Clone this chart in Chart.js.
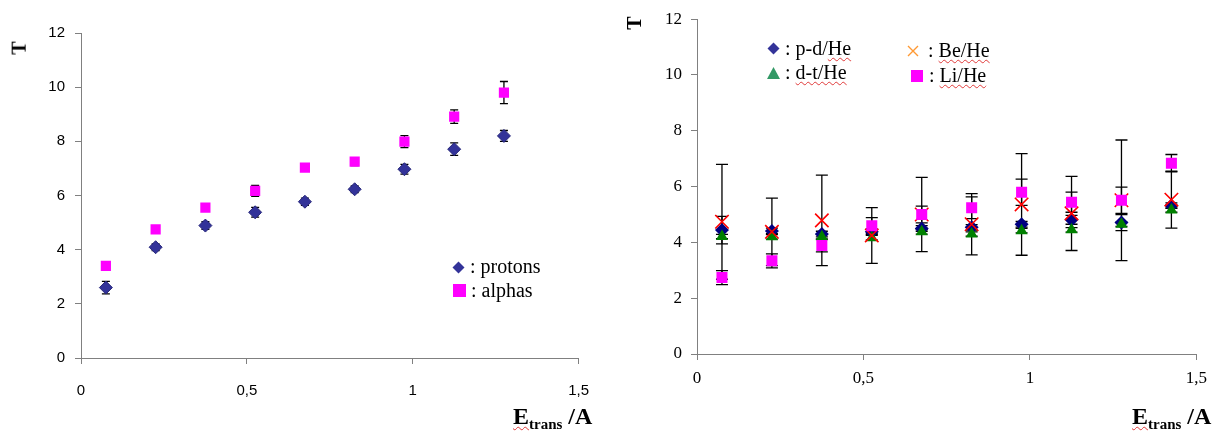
<!DOCTYPE html>
<html>
<head>
<meta charset="utf-8">
<script src="https://cdn.jsdelivr.net/npm/chart.js@4.4.0/dist/chart.umd.min.js"></script>
<style>
  body { margin: 0; background: #fff; width: 1215px; height: 438px; overflow: hidden; position: relative; }
  canvas { position: absolute; top: 0; }
  #leftChart { left: 0; }
  #rightChart { left: 607px; }
  .ytitle { position: absolute; font-family: "Liberation Serif", serif; font-weight: bold; font-size: 20px; transform: rotate(-90deg); line-height: 20px; }
  .xtitle { position: absolute; font-family: "Liberation Serif", serif; font-weight: bold; font-size: 24px; white-space: nowrap; line-height: 24px; }
  .xtitle sub { font-size: 15px; vertical-align: -5px; }
  .leg { position: absolute; font-family: "Liberation Serif", serif; font-size: 20px; white-space: nowrap; line-height: 20px; color: #000; }
  .mk { position: absolute; }
  .wavy { text-decoration: underline wavy #e03a3a; text-decoration-thickness: 1px; text-underline-offset: 2px; }
</style>
</head>
<body>
<canvas id="leftChart" width="607" height="438"></canvas>
<canvas id="rightChart" width="608" height="438"></canvas>

<!-- titres des axes -->
<div class="ytitle" style="left:12px; top:38px;">T</div>
<div class="ytitle" style="left:627px; top:13px;">T</div>
<div class="xtitle" style="left:513px; top:404px;"><span class="wavy">E<sub>trans</sub></span> /A</div>
<div class="xtitle" style="left:1132px; top:404px;"><span class="wavy">E<sub>trans</sub></span> /A</div>

<!-- légende gauche -->
<svg class="mk" style="left:452px; top:261px;" width="13" height="13"><polygon points="6.5,0.5 12.5,6.5 6.5,12.5 0.5,6.5" fill="#333399"/></svg>
<div class="leg" style="left:470px; top:256px;">: protons</div>
<svg class="mk" style="left:453px; top:284px;" width="13" height="13"><rect x="0" y="0" width="13" height="13" fill="#ff00ff"/></svg>
<div class="leg" style="left:471px; top:280px;">: alphas</div>

<!-- légende droite -->
<svg class="mk" style="left:767px; top:42px;" width="13" height="13"><polygon points="6.5,0.5 12.5,6.5 6.5,12.5 0.5,6.5" fill="#333399"/></svg>
<div class="leg" style="left:785px; top:38px;">: p-d/<span class="wavy">He</span></div>
<svg class="mk" style="left:767px; top:67px;" width="13" height="12"><polygon points="6.5,0 13,12 0,12" fill="#339966"/></svg>
<div class="leg" style="left:785px; top:62px;">: <span class="wavy">d-t/He</span></div>
<svg class="mk" style="left:907px; top:45px;" width="12" height="12"><path d="M1,1 L11,11 M11,1 L1,11" stroke="#ff9933" stroke-width="1.4"/></svg>
<div class="leg" style="left:928px; top:40px;">: <span class="wavy">Be/He</span></div>
<svg class="mk" style="left:911px; top:70px;" width="12" height="12"><rect x="0" y="0" width="12" height="12" fill="#ff00ff"/></svg>
<div class="leg" style="left:929px; top:65px;">: <span class="wavy">Li/He</span></div>

<script>
// Données du graphique de gauche
const leftX = [0.075, 0.225, 0.375, 0.525, 0.675, 0.825, 0.975, 1.125, 1.275];
const protons = [2.6, 4.09, 4.89, 5.38, 5.77, 6.23, 6.97, 7.71, 8.2];
const protonsErr = [0.23, 0.12, 0.14, 0.18, 0.13, 0.12, 0.18, 0.23, 0.2];
const alphas = [3.40, 4.75, 5.55, 6.17, 7.03, 7.25, 7.99, 8.91, 9.8];
const alphasErr = [0.05, 0.05, 0.05, 0.2, 0.05, 0.15, 0.22, 0.25, 0.41];

// Données du graphique de droite
const rightX = [0.075, 0.225, 0.375, 0.525, 0.675, 0.825, 0.975, 1.125, 1.275, 1.425];
const pdHe = [4.44, 4.41, 4.30, 4.38, 4.50, 4.54, 4.65, 4.81, 4.71, 5.32];
const pdHeErr = [0.49, 0.1, 0.1, 0.1, 0.1, 0.1, 0.1, 0.16, 0.29, 0.1];
const dtHe = [4.21, 4.20, 4.20, 4.17, 4.38, 4.30, 4.42, 4.45, 4.65, 5.16];
const dtHeErr = [0.08, 0.08, 0.08, 0.08, 0.08, 0.08, 0.08, 0.08, 0.08, 0.08];
const beHe = [4.74, 4.38, 4.79, 4.25, 5.00, 4.65, 5.36, 5.04, 5.51, 5.53];
const beHeErr = [2.06, 1.21, 1.62, 1.0, 1.33, 1.1, 1.82, 1.33, 2.16, 1.02];
const liHe = [2.74, 3.34, 3.89, 4.60, 5.00, 5.24, 5.80, 5.44, 5.51, 6.84];
const liHeErr = [0.25, 0.25, 0.23, 0.29, 0.3, 0.39, 0.47, 0.36, 0.47, 0.31];

// Graduations
const xTicks = [0, 0.5, 1, 1.5];
const yTicks = [0, 2, 4, 6, 8, 10, 12];

function toPoints(xs, ys) {
  return xs.map((x, i) => ({ x: x, y: ys[i] }));
}

// Barres d'erreur dessinées avant les marqueurs
const errorBars = {
  id: 'errorBars',
  beforeDatasetsDraw(chart, args, opts) {
    const ctx = chart.ctx;
    const xs = chart.scales.x, ys = chart.scales.y;
    const cap = opts.cap || 4;
    ctx.save();
    ctx.strokeStyle = '#000';
    ctx.lineWidth = 1.3;
    chart.data.datasets.forEach(ds => {
      if (!ds.errors) return;
      ds.data.forEach((p, i) => {
        const e = ds.errors[i];
        const x = xs.getPixelForValue(p.x);
        const y1 = ys.getPixelForValue(p.y + e);
        const y2 = ys.getPixelForValue(p.y - e);
        ctx.beginPath();
        ctx.moveTo(x, y1); ctx.lineTo(x, y2);
        ctx.moveTo(x - cap, y1); ctx.lineTo(x + cap, y1);
        ctx.moveTo(x - cap, y2); ctx.lineTo(x + cap, y2);
        ctx.stroke();
      });
    });
    ctx.restore();
  }
};

function makeScales(fontFamily, fontSize, yWidth, xHeight, xPad, yPad) {
  const grid = { display: true, drawOnChartArea: false, drawTicks: true, tickLength: 6, color: '#808080' };
  const border = { display: true, color: '#808080', width: 1 };
  return {
    x: {
      type: 'linear', min: 0, max: 1.5,
      afterBuildTicks: s => { s.ticks = xTicks.map(v => ({ value: v })); },
      afterFit: s => { s.height = xHeight; },
      grid: grid, border: border,
      ticks: {
        color: '#000', padding: xPad, maxRotation: 0,
        font: { family: fontFamily, size: fontSize },
        callback: v => String(v).replace('.', ',')
      }
    },
    y: {
      type: 'linear', min: 0, max: 12,
      afterBuildTicks: s => { s.ticks = yTicks.map(v => ({ value: v })); },
      afterFit: s => { s.width = yWidth; },
      grid: grid, border: border,
      ticks: {
        color: '#000', padding: yPad,
        font: { family: fontFamily, size: fontSize },
        callback: v => String(v)
      }
    }
  };
}

new Chart(document.getElementById('leftChart'), {
  type: 'scatter',
  data: {
    datasets: [
      {
        label: 'protons', data: toPoints(leftX, protons), errors: protonsErr,
        pointStyle: 'rectRot', pointRadius: 6.5,
        backgroundColor: '#333399', borderColor: '#26267a', borderWidth: 1
      },
      {
        label: 'alphas', data: toPoints(leftX, alphas), errors: alphasErr,
        pointStyle: 'rect', pointRadius: 7.2,
        backgroundColor: '#ff00ff', borderColor: '#ff00ff', borderWidth: 0
      }
    ]
  },
  options: {
    responsive: false, animation: false,
    layout: { padding: { left: 0, top: 33, right: 23, bottom: 0 } },
    plugins: { legend: { display: false }, tooltip: { enabled: false }, errorBars: { cap: 4 } },
    scales: makeScales('"Liberation Sans", Arial, sans-serif', 15, 81, 80, 18, 10)
  },
  plugins: [errorBars]
});

new Chart(document.getElementById('rightChart'), {
  type: 'scatter',
  data: {
    datasets: [
      {
        label: 'p-d/He', data: toPoints(rightX, pdHe), errors: pdHeErr, order: 3,
        pointStyle: 'rectRot', pointRadius: 7,
        backgroundColor: '#000080', borderColor: '#000080', borderWidth: 0
      },
      {
        label: 'd-t/He', data: toPoints(rightX, dtHe), errors: dtHeErr, order: 2,
        pointStyle: 'triangle', pointRadius: 7,
        backgroundColor: '#008000', borderColor: '#008000', borderWidth: 0
      },
      {
        label: 'Be/He', data: toPoints(rightX, beHe), errors: beHeErr, order: 1,
        pointStyle: 'crossRot', pointRadius: 9.5,
        backgroundColor: '#ff0000', borderColor: '#ff0000', borderWidth: 1.6
      },
      {
        label: 'Li/He', data: toPoints(rightX, liHe), errors: liHeErr, order: 0,
        pointStyle: 'rect', pointRadius: 7.8,
        backgroundColor: '#ff00ff', borderColor: '#ff00ff', borderWidth: 0
      }
    ]
  },
  options: {
    responsive: false, animation: false,
    layout: { padding: { left: 0, top: 13, right: 18, bottom: 0 } },
    plugins: { legend: { display: false }, tooltip: { enabled: false }, errorBars: { cap: 6 } },
    scales: makeScales('"Liberation Serif", "Times New Roman", serif', 17, 90, 84, 8, 9)
  },
  plugins: [errorBars]
});
</script>
</body>
</html>
